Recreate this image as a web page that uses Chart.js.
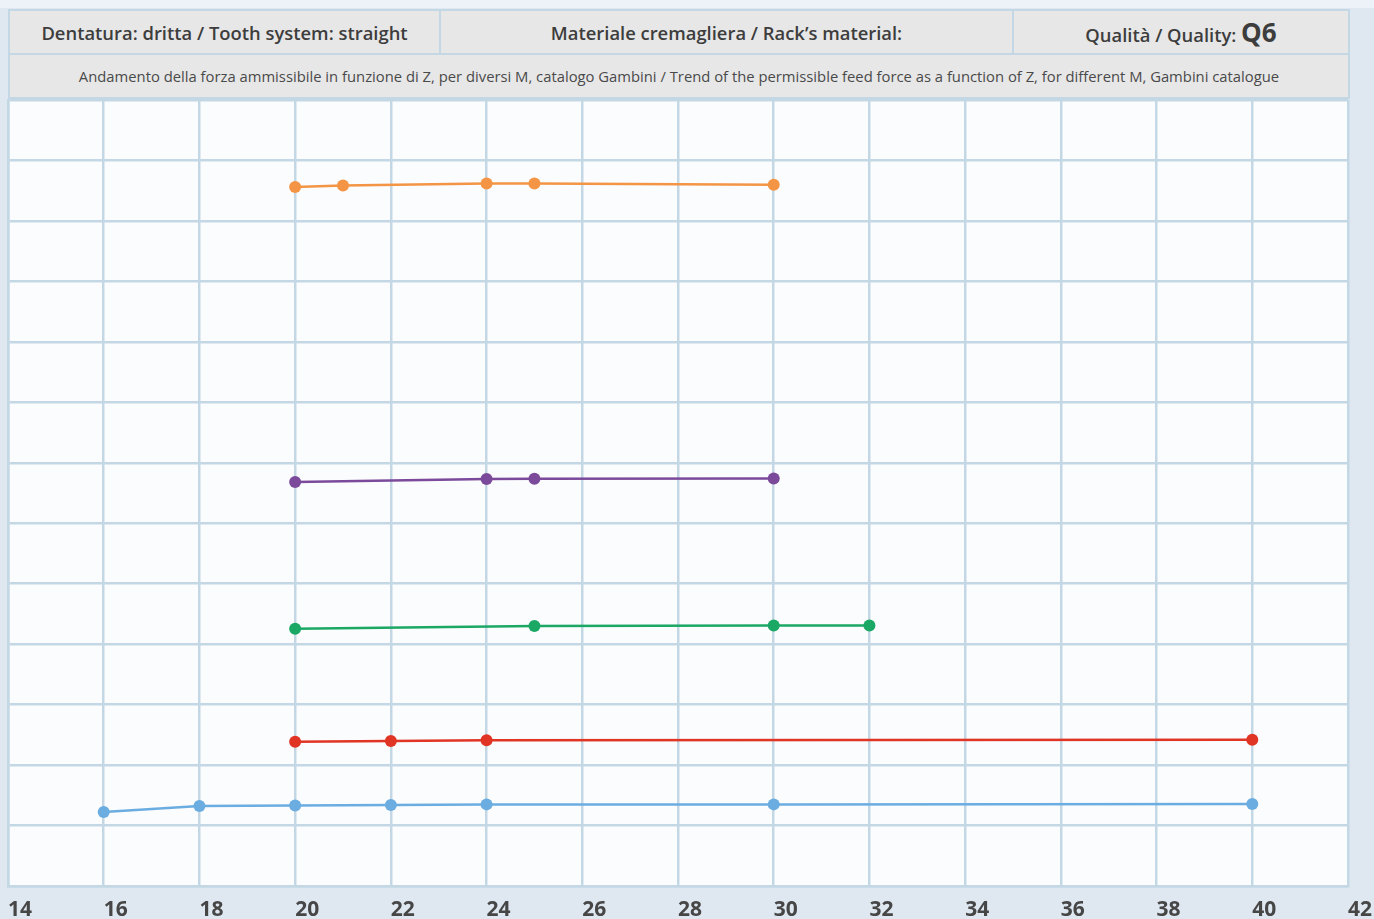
<!DOCTYPE html>
<html>
<head>
<meta charset="utf-8">
<script src="https://cdn.jsdelivr.net/npm/chart.js@4"></script>
<style>
  html, body { margin: 0; padding: 0; }
  body {
    width: 1374px; height: 919px; overflow: hidden;
    background: #dfe8f1;
    font-family: "Open Sans", "Noto Sans", sans-serif;
    position: relative;
  }
  #topstrip { position: absolute; left: 0; top: 0; width: 1374px; height: 8px; background: #edf1f8; }
  #wrap { position: absolute; left: 0; top: 0; width: 1374px; height: 919px; }
  #head {
    position: absolute; left: 8px; top: 9px; width: 1340px;
    border-collapse: collapse; table-layout: fixed;
    color: #3d3d3d;
  }
  #head td {
    border: 2px solid #c4d7e4; background: #e7e7e7;
    text-align: center; padding: 0; height: 42px;
  }
  .h1 { font-weight: 600; font-size: 18.4px; }
  .q6 { font-weight: 700; font-size: 26px; }
  .h2 { font-weight: 400; font-size: 14.8px; color: #4a4a4a; }
</style>
</head>
<body>
<div id="topstrip"></div>
<div id="wrap"><canvas id="chart"></canvas></div>
<table id="head">
  <colgroup><col style="width:431px"><col style="width:573px"><col style="width:336px"></colgroup>
  <tr>
    <td class="h1">Dentatura: dritta / Tooth system: straight</td>
    <td class="h1">Materiale cremagliera / Rack’s material:</td>
    <td class="h1">Qualità / Quality: <span class="q6">Q6</span></td>
  </tr>
  <tr>
    <td class="h2" colspan="3">Andamento della forza ammissibile in funzione di Z, per diversi M, catalogo Gambini / Trend of the permissible feed force as a function of Z, for different M, Gambini catalogue</td>
  </tr>
</table>
<script>
// x = number of teeth Z, y = permissible force (grid units, no labels shown)
const xTicks = [14, 16, 18, 20, 22, 24, 26, 28, 30, 32, 34, 36, 38, 40, 42];

const zOrange = [20, 21, 24, 25, 30];
const fOrange = [11.56, 11.585, 11.62, 11.62, 11.60];

const zPurple = [20, 24, 25, 30];
const fPurple = [6.68, 6.73, 6.735, 6.74];

const zGreen = [20, 25, 30, 32];
const fGreen = [4.255, 4.30, 4.31, 4.31];

const zRed = [20, 22, 24, 40];
const fRed = [2.385, 2.40, 2.41, 2.42];

const zBlue = [16, 18, 20, 22, 24, 30, 40];
const fBlue = [1.225, 1.325, 1.33, 1.34, 1.35, 1.35, 1.355];

function pts(xs, ys) {
  return xs.map((x, i) => ({ x: x, y: ys[i] }));
}

function series(xs, ys, color) {
  return {
    data: pts(xs, ys),
    borderColor: color,
    backgroundColor: color,
    borderWidth: 2.5,
    pointRadius: 6,
    pointHoverRadius: 6,
    pointBorderWidth: 0,
    tension: 0,
  };
}

const gridColor = '#c4d7e4';

// white plot background
const plotBg = {
  id: 'plotBg',
  beforeDraw(chart) {
    const a = chart.chartArea;
    const ctx = chart.ctx;
    ctx.save();
    ctx.fillStyle = '#fbfcfe';
    ctx.fillRect(a.left, a.top, a.right - a.left, a.bottom - a.top);
    ctx.restore();
  }
};

new Chart(document.getElementById('chart'), {
  type: 'line',
  data: {
    datasets: [
      series(zOrange, fOrange, '#f39545'),
      series(zPurple, fPurple, '#7b4a9b'),
      series(zGreen, fGreen, '#1ba865'),
      series(zRed, fRed, '#e03424'),
      series(zBlue, fBlue, '#6badE0'),
    ]
  },
  options: {
    responsive: true,
    maintainAspectRatio: false,
    animation: false,
    layout: { padding: { left: 8, right: 26, top: 100, bottom: 0 } },
    plugins: {
      legend: { display: false },
      tooltip: { enabled: false },
    },
    scales: {
      x: {
        type: 'linear',
        min: 14,
        max: 42,
        afterFit: (axis) => {
          axis.height = 33;
          axis.paddingLeft = 0;
          axis.paddingRight = 0;
        },
        afterBuildTicks: (axis) => { axis.ticks = xTicks.map(v => ({ value: v })); },
        grid: { color: gridColor, lineWidth: 2.5, drawTicks: false },
        border: { color: gridColor, width: 2.5 },
        ticks: {
          align: 'start',
          padding: 11,
          color: '#464646',
          font: { family: '"Open Sans", sans-serif', size: 21, weight: 'bold' },
          maxRotation: 0,
          autoSkip: false,
        },
      },
      y: {
        min: 0,
        max: 13,
        afterFit: (axis) => {
          axis.width = 0;
          axis.paddingTop = 0;
          axis.paddingBottom = 0;
        },
        grid: { color: gridColor, lineWidth: 2.5, drawTicks: false },
        border: { color: gridColor, width: 2.5 },
        ticks: { display: false, stepSize: 1 },
      },
    },
  },
  plugins: [plotBg],
});
</script>
</body>
</html>
